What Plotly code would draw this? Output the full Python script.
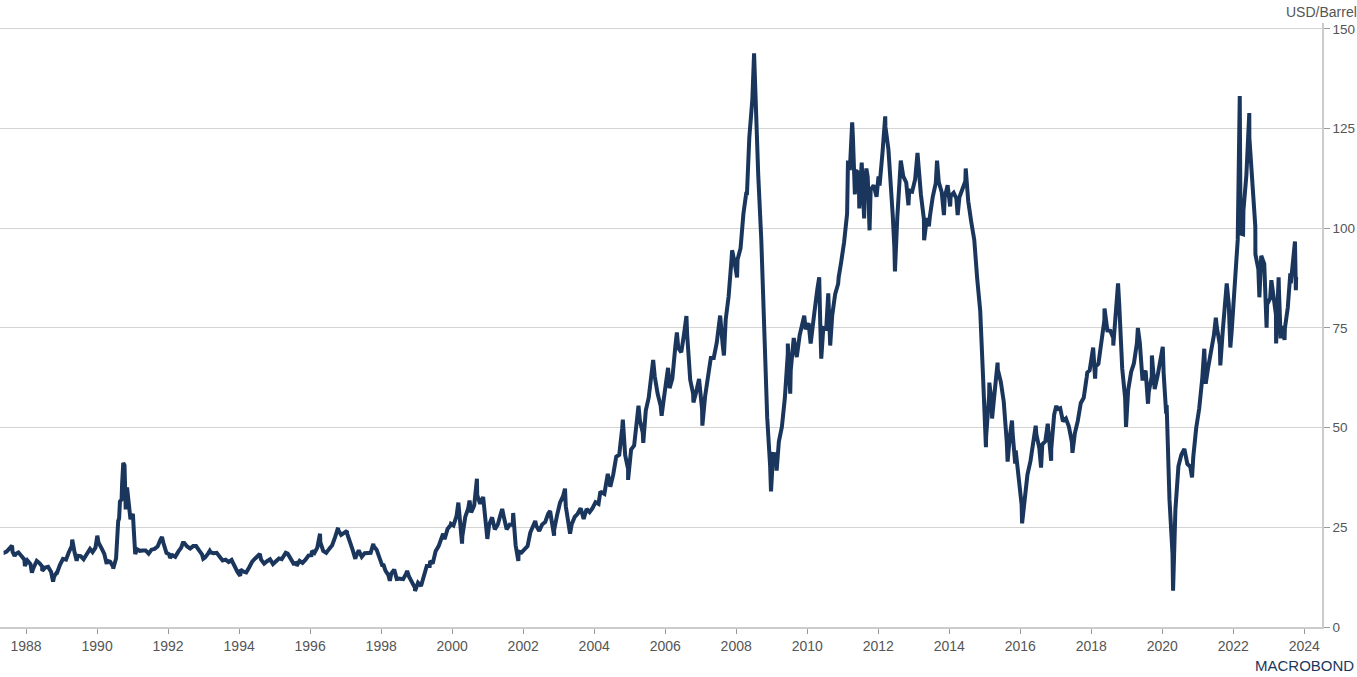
import pandas as pd
import plotly.graph_objects as go

# Monthly (mid-month) Brent spot, USD/Barrel, May 1987 - Oct 2023
brent_monthly = [
    # 1987 May-Dec
    18.6, 18.9, 19.8, 18.9, 18.3, 18.7, 17.8, 16.9,
    # 1988
    16.7, 15.8, 14.7, 16.0, 16.1, 15.2, 14.9, 15.1, 13.8, 12.6, 13.6, 15.6,
    # 1989
    17.1, 16.9, 18.7, 20.3, 18.6, 17.9, 17.8, 17.0, 18.1, 19.1, 18.8, 19.9,
    # 1990
    21.2, 19.8, 18.4, 16.6, 16.4, 15.1, 17.2, 27.2, 35.9, 36.0, 32.3, 27.3,
    # 1991
    23.6, 19.5, 19.1, 19.2, 19.2, 18.4, 19.4, 19.6, 20.2, 21.9, 21.0, 18.6,
    # 1992
    18.2, 18.0, 17.6, 18.9, 19.9, 21.1, 20.2, 19.7, 20.3, 20.3, 19.2, 18.2,
    # 1993
    17.4, 18.4, 18.7, 18.5, 18.6, 17.7, 16.7, 16.9, 16.3, 16.8, 15.4, 13.8,
    # 1994
    14.4, 13.9, 13.7, 15.0, 16.4, 17.2, 18.1, 16.9, 15.9, 16.5, 17.0, 15.8,
    # 1995
    16.6, 17.2, 17.0, 18.6, 18.4, 17.3, 15.9, 16.1, 16.6, 16.1, 16.9, 17.9,
    # 1996
    18.0, 18.6, 19.9, 21.3, 19.1, 18.6, 19.6, 20.5, 22.6, 24.4, 23.1, 23.5,
    # 1997
    23.5, 20.8, 19.2, 17.6, 19.2, 17.6, 18.5, 18.6, 18.6, 20.3, 19.4, 17.6,
    # 1998
    15.2, 14.1, 13.1, 13.4, 14.4, 12.2, 12.1, 12.0, 13.4, 12.6, 10.9, 9.8,
    # 1999
    11.1, 10.3, 12.5, 15.3, 15.3, 15.9, 19.0, 20.3, 22.5, 22.0, 24.6, 25.5,
    # 2000
    25.5, 27.8, 27.5, 22.8, 27.6, 29.8, 28.7, 30.5, 33.1, 30.9, 32.6, 25.3,
    # 2001
    25.6, 27.5, 24.5, 25.7, 28.4, 27.7, 24.5, 25.7, 25.6, 20.5, 18.9, 18.7,
    # 2002
    19.4, 20.3, 23.7, 25.7, 25.4, 24.1, 25.7, 26.3, 28.4, 27.5, 24.3, 28.0,
    # 2003
    31.2, 32.8, 30.3, 25.0, 25.8, 27.6, 28.4, 29.8, 27.1, 29.6, 28.8, 29.8,
    # 2004
    31.3, 30.9, 33.8, 33.4, 37.6, 35.2, 38.2, 42.7, 43.2, 49.8, 43.1, 39.6,
    # 2005
    44.5, 45.5, 53.1, 51.9, 48.7, 54.3, 57.5, 64.1, 62.9, 58.5, 55.5, 56.8,
    # 2006
    63.6, 59.9, 62.3, 70.4, 70.0, 68.9, 73.7, 73.2, 62.0, 58.5, 58.9, 62.2,
    # 2007
    54.6, 57.8, 62.1, 67.5, 67.5, 71.3, 77.2, 70.8, 77.1, 82.9, 92.5, 91.5,
    # 2008
    92.2, 95.0, 103.6, 109.1, 122.8, 132.3, 132.7, 113.2, 97.2, 71.6, 52.5, 40.4,
    # 2009
    43.4, 43.3, 46.5, 50.2, 57.3, 68.6, 64.4, 72.5, 67.7, 73.2, 77.0, 74.7,
    # 2010
    76.2, 73.8, 78.8, 84.8, 75.9, 75.0, 74.8, 77.1, 78.2, 83.5, 86.1, 91.4,
    # 2011
    96.5, 103.7, 114.6, 123.3, 114.5, 113.9, 116.5, 110.1, 112.8, 109.6, 110.8, 107.9,
    # 2012
    110.7, 119.3, 125.5, 119.8, 110.3, 95.2, 102.6, 113.4, 113.0, 111.5, 109.5, 109.2,
    # 2013
    112.3, 116.1, 108.5, 102.3, 102.6, 102.9, 107.9, 111.3, 111.6, 109.1, 107.8, 110.8,
    # 2014
    108.1, 108.9, 107.5, 107.8, 109.5, 111.8, 106.8, 101.6, 97.1, 87.4, 79.4, 62.3,
    # 2015
    47.8, 58.1, 55.9, 59.5, 64.6, 61.5, 56.6, 46.5, 47.6, 48.4, 44.3, 38.0,
    # 2016
    30.7, 32.2, 38.2, 41.6, 46.7, 48.3, 44.9, 45.8, 46.6, 49.5, 44.7, 53.3,
    # 2017
    54.6, 54.9, 51.6, 52.3, 50.3, 46.4, 48.5, 51.7, 56.2, 57.5, 62.7, 64.4,
    # 2018
    69.1, 65.3, 66.0, 72.1, 76.9, 74.4, 74.3, 72.5, 78.9, 81.0, 64.8, 57.4,
    # 2019
    59.4, 64.0, 66.1, 71.2, 71.3, 64.2, 63.9, 59.0, 62.8, 59.7, 63.2, 67.3,
    # 2020
    63.7, 55.7, 32.0, 18.4, 29.4, 40.3, 43.2, 44.7, 40.9, 40.2, 42.7, 49.9,
    # 2021
    54.8, 62.3, 65.4, 64.8, 68.5, 73.2, 75.2, 70.8, 74.5, 83.5, 81.0, 74.2,
    # 2022
    86.5, 97.1, 117.3, 104.6, 113.3, 122.7, 111.9, 100.5, 89.8, 93.1, 91.1, 80.9,
    # 2023 Jan-Oct
    82.5, 82.6, 78.4, 84.6, 75.5, 74.9, 80.1, 86.2, 94.0, 89.0,
]

# Intra-month highs and lows
extreme_dates = [
    "1987-05-20", "1987-08-10", "1987-09-05", "1987-12-20", "1988-03-01",
    "1988-04-20", "1988-06-15", "1988-10-05", "1988-11-10", "1989-02-25",
    "1989-04-20", "1989-06-05", "1989-10-20", "1990-01-03", "1990-04-10",
    "1990-06-15", "1990-08-06", "1990-08-24", "1990-09-10", "1990-09-27",
    "1990-10-10", "1990-10-22", "1990-11-05", "1990-12-10", "1991-01-04",
    "1991-01-18", "1991-01-28", "1991-10-30", "1992-01-20", "1992-06-01",
    "1992-12-28", "1993-03-05", "1993-11-01", "1994-01-12", "1994-08-02",
    "1995-04-25", "1995-08-15", "1996-01-20", "1996-04-12", "1996-10-15",
    "1997-01-15", "1997-04-10", "1997-10-12", "1998-01-22", "1998-03-31",
    "1998-06-15", "1998-09-25", "1998-12-15", "1999-05-20", "1999-09-30",
    "1999-12-20", "2000-03-05", "2000-04-12", "2000-06-28", "2000-09-12",
    "2000-12-28", "2001-05-30", "2001-09-20", "2001-11-12", "2002-05-05",
    "2002-10-05", "2002-11-15", "2003-03-07", "2003-04-28", "2004-03-03",
    "2004-05-20", "2004-10-22", "2004-12-15", "2005-04-01", "2005-05-20",
    "2005-08-30", "2005-11-25", "2006-01-30", "2006-05-01", "2006-08-07",
    "2006-10-18", "2007-01-18", "2007-07-20", "2007-08-28", "2007-11-20",
    "2008-01-10", "2008-04-20", "2008-07-03", "2008-12-24", "2009-02-20",
    "2009-06-15", "2009-07-10", "2009-12-01", "2010-02-05", "2010-05-04",
    "2010-05-25", "2010-08-05", "2010-08-25", "2010-11-20", "2011-02-24",
    "2011-04-08", "2011-05-06", "2011-06-20", "2011-08-09", "2011-09-01",
    "2011-10-04", "2012-01-04", "2012-03-13", "2012-05-30", "2012-06-21",
    "2012-08-20", "2012-11-07", "2013-02-08", "2013-04-17", "2013-06-05",
    "2013-08-28", "2013-11-07", "2014-01-10", "2014-03-28", "2014-06-19",
    "2015-01-13", "2015-02-17", "2015-03-17", "2015-05-13", "2015-08-24",
    "2015-10-08", "2015-11-10", "2016-01-20", "2016-06-08", "2016-08-02",
    "2016-10-10", "2016-11-14", "2017-01-06", "2017-06-21", "2017-11-20",
    "2018-01-20", "2018-02-09", "2018-05-17", "2018-08-15", "2018-10-03",
    "2018-12-24", "2019-04-25", "2019-06-12", "2019-08-07", "2019-09-16",
    "2020-01-06", "2020-02-10", "2020-04-21", "2020-11-02", "2021-03-08",
    "2021-03-23", "2021-07-05", "2021-08-20", "2021-10-25", "2021-12-01",
    "2022-01-20", "2022-03-08", "2022-03-16", "2022-04-11", "2022-06-14",
    "2022-08-16", "2022-09-26", "2022-12-09", "2023-01-27", "2023-03-17",
    "2023-04-12", "2023-05-03", "2023-06-12", "2023-08-10", "2023-09-27",
    "2023-10-06", "2023-10-09",
]
extreme_values = [
    18.6, 20.4, 17.8, 15.3, 13.6,
    16.6, 14.1, 11.4, 13.6, 17.8,
    21.9, 16.6, 19.6, 22.9, 15.8,
    14.6, 26.6, 31.5, 32.0, 41.2,
    40.5, 29.5, 35.0, 27.0, 28.4,
    20.0, 18.3, 22.6, 17.3, 21.1,
    17.1, 19.1, 15.8, 12.8, 18.3,
    18.6, 15.3, 19.1, 23.4, 24.9,
    24.1, 17.1, 20.9, 15.8, 11.6,
    11.6, 14.1, 9.0, 16.6, 23.4,
    25.9, 31.2, 20.9, 31.7, 37.2,
    22.1, 29.6, 28.6, 16.6, 26.6,
    29.1, 22.9, 34.7, 23.4, 33.7,
    38.4, 52.0, 36.9, 55.5, 46.2,
    67.0, 53.0, 65.0, 73.9, 78.0,
    56.3, 50.5, 78.1, 68.1, 94.5,
    87.7, 108.3, 143.9, 34.0, 39.2,
    71.1, 58.5, 78.1, 71.1, 87.7,
    67.3, 83.7, 70.6, 87.7, 117.0,
    126.6, 108.5, 105.0, 102.5, 115.0,
    99.5, 113.0, 128.1, 103.0, 89.2,
    117.0, 105.8, 118.9, 97.0, 100.5,
    117.0, 103.3, 105.5, 103.3, 115.0,
    45.1, 61.3, 52.3, 66.3, 41.5,
    51.8, 41.0, 26.0, 50.5, 40.0,
    51.0, 41.7, 55.5, 43.7, 63.8,
    70.1, 62.3, 79.9, 70.6, 86.2,
    50.2, 75.0, 61.8, 56.0, 68.1,
    70.3, 53.5, 9.1, 37.5, 69.8,
    61.0, 77.6, 65.6, 86.2, 70.1,
    89.4, 133.2, 98.7, 98.5, 128.9,
    93.5, 82.7, 75.1, 87.0, 71.1,
    87.7, 72.4, 72.0, 88.7, 96.7,
    84.5, 87.8,
]

tick_years = list(range(1988, 2025, 2))

monthly_dates = pd.date_range("1987-05-01", periods=len(brent_monthly), freq="MS") + pd.Timedelta(days=14)
s = pd.concat([
    pd.Series(brent_monthly, index=monthly_dates),
    pd.Series(extreme_values, index=pd.to_datetime(extreme_dates)),
]).sort_index()
s = s[s.index <= pd.Timestamp("2023-10-09")]

fig = go.Figure()
fig.add_trace(go.Scatter(
    x=s.index, y=s.values, mode="lines",
    line=dict(color="#1b365d", width=4),
    hoverinfo="skip", showlegend=False,
))

axis_font = dict(family="Liberation Sans, Arial, sans-serif", size=14, color="#555555")

fig.update_layout(
    width=1357, height=677,
    margin=dict(l=0, r=35, t=23, b=50),
    paper_bgcolor="white", plot_bgcolor="white",
    font=axis_font,
    xaxis=dict(
        type="date",
        range=["1987-04-08", "2024-07-01"],
        tickvals=[f"{y}-01-01" for y in tick_years],
        ticktext=[str(y) for y in tick_years],
        ticks="outside", ticklen=5, tickcolor="#999999",
        showgrid=False, showline=True, linecolor="#cccccc", linewidth=1.5,
        tickfont=axis_font,
    ),
    yaxis=dict(
        side="right",
        range=[0, 151.5],
        tickvals=[0, 25, 50, 75, 100, 125, 150],
        ticks="outside", ticklen=6, tickcolor="#999999",
        showgrid=True, gridcolor="#d4d4d4", gridwidth=1,
        zeroline=False,
        showline=True, linecolor="#cccccc", linewidth=1.5,
        tickfont=dict(family="Liberation Sans, Arial, sans-serif", size=13.5, color="#555555"),
    ),
    annotations=[
        dict(text="USD/Barrel", xref="paper", yref="paper", x=1.0, y=1.0,
             xanchor="right", yanchor="bottom", xshift=37, yshift=1,
             showarrow=False, font=axis_font),
        dict(text="MACROBOND", xref="paper", yref="paper", x=1.0, y=0,
             xanchor="right", yanchor="middle", xshift=34, yshift=-38,
             showarrow=False,
             font=dict(family="Liberation Sans, Arial, sans-serif", size=15, color="#1b365d")),
    ],
)

fig.write_html("out.html", config={"displayModeBar": False},
               post_script="document.body.style.margin='0';")
